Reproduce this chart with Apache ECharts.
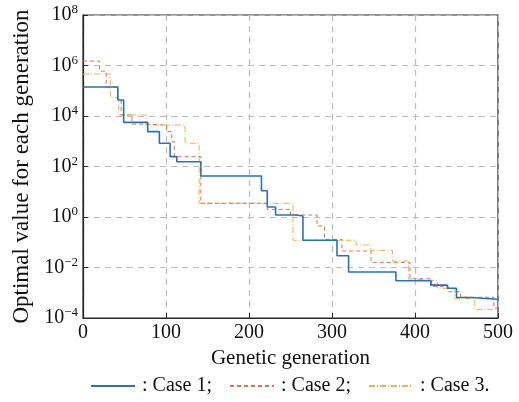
<!DOCTYPE html>
<html>
<head>
<meta charset="utf-8">
<script src="https://cdn.jsdelivr.net/npm/echarts@6/dist/echarts.min.js"></script>
<style>
  html, body { margin: 0; padding: 0; background: #fff; }
  #chart { width: 519px; height: 402px; }
</style>
</head>
<body>
<div id="chart"></div>
<script>
// Case 1 (solid blue)
const gens1 = [0, 42, 49, 78, 92, 105, 113, 142, 215, 222, 232, 257, 265, 306, 320, 377, 419, 439, 450, 467, 500];
const vals1 = [1.4e5, 4.3e4, 5.6e3, 2.4e3, 830, 245, 155, 42, 11, 2.5, 1.2, 1.1, 0.12, 0.029, 0.0066, 0.003, 0.002, 0.0015, 6.5e-4, 5.5e-4, 5.5e-4];
// Case 2 (dashed red)
const gens2 = [0, 20, 28, 42, 46, 59, 77, 101, 107, 110, 142, 222, 250, 282, 291, 312, 347, 394, 420, 440, 455, 495, 500];
const vals2 = [1.5e6, 6e5, 1.4e5, 4e4, 1.1e4, 4.8e3, 4.3e3, 2.4e3, 950, 245, 3.5, 2.0, 1.2, 0.44, 0.13, 0.045, 0.016, 0.0036, 0.0018, 0.0011, 6.6e-4, 2.5e-4, 2.5e-4];
// Case 3 (dash-dot orange)
const gens3 = [0, 33, 43, 76, 123, 140, 253, 329, 347, 373, 392, 399, 427, 448, 472, 500];
const vals3 = [4.6e5, 5.5e4, 1.1e4, 4.4e3, 830, 3.5, 0.12, 0.078, 0.047, 0.018, 0.0035, 0.003, 0.0015, 5.8e-4, 2.2e-4, 2.2e-4];

const seriesNames = [': Case 1;', ': Case 2;', ': Case 3.'];
const xTicks = [0, 100, 200, 300, 400, 500];

const font = 'Liberation Serif';
const zip = (g, v) => g.map((x, i) => [x, v[i]]);

const myChart = echarts.init(document.getElementById('chart'));
myChart.setOption({
  backgroundColor: '#fff',
  animation: false,
  textStyle: { fontFamily: font },
  grid: {
    left: 83,
    right: 21,
    top: 15,
    bottom: 84,
    show: true,
    borderColor: '#262626',
    borderWidth: 1.2
  },
  legend: {
    left: 85,
    top: 371,
    itemWidth: 44,
    itemHeight: 12,
    itemGap: 17,
    itemStyle: { opacity: 0 },
    textStyle: { fontFamily: font, fontSize: 20, color: '#111', padding: [0, 0, 0, 2] },
    data: seriesNames
  },
  xAxis: {
    type: 'value',
    min: xTicks[0],
    max: xTicks[xTicks.length - 1],
    interval: 100,
    name: 'Genetic generation',
    nameLocation: 'middle',
    nameGap: 30,
    nameTextStyle: { fontFamily: font, fontSize: 21, color: '#111' },
    axisLine: { lineStyle: { color: '#262626', width: 1.2 } },
    axisTick: { inside: true, length: 5, lineStyle: { color: '#262626' } },
    axisLabel: { fontFamily: font, fontSize: 20, color: '#111', margin: 5 },
    splitLine: { lineStyle: { type: [6, 5], color: '#bdbdbd', width: 1.2 } }
  },
  yAxis: {
    type: 'log',
    logBase: 10,
    min: 1e-4,
    max: 1e8,
    interval: 2,
    name: 'Optimal value for each generation',
    nameLocation: 'middle',
    nameGap: 44,
    nameTextStyle: { fontFamily: font, fontSize: 23, color: '#111' },
    axisLine: { lineStyle: { color: '#262626', width: 1.2 } },
    axisTick: { inside: true, length: 5, lineStyle: { color: '#262626' } },
    axisLabel: {
      margin: 5,
      color: '#111',
      formatter: function (v) {
        const e = Math.round(Math.log10(v));
        return '{b|10}{s|' + (e < 0 ? '\u2212' + (-e) : e) + '}';
      },
      rich: {
        b: { fontFamily: font, fontSize: 20, color: '#111' },
        s: { fontFamily: font, fontSize: 13, color: '#111', padding: [0, 0, 10, 0] }
      }
    },
    splitLine: { lineStyle: { type: [6, 5], color: '#bdbdbd', width: 1.2 } }
  },
  series: [
    {
      name: seriesNames[0],
      type: 'line',
      step: 'end',
      symbol: 'none',
      z: 4,
      lineStyle: { color: '#2b72b5', width: 1.6 },
      itemStyle: { color: '#2b72b5' },
      data: zip(gens1, vals1)
    },
    {
      name: seriesNames[1],
      type: 'line',
      step: 'end',
      symbol: 'none',
      z: 3,
      lineStyle: { color: '#e0714c', width: 1, type: [4, 3] },
      itemStyle: { color: '#e0714c' },
      data: zip(gens2, vals2)
    },
    {
      name: seriesNames[2],
      type: 'line',
      step: 'end',
      symbol: 'none',
      z: 2,
      lineStyle: { color: '#ebb44f', width: 1, type: [6, 2, 1, 2] },
      itemStyle: { color: '#ebb44f' },
      data: zip(gens3, vals3)
    }
  ]
});
</script>
</body>
</html>
